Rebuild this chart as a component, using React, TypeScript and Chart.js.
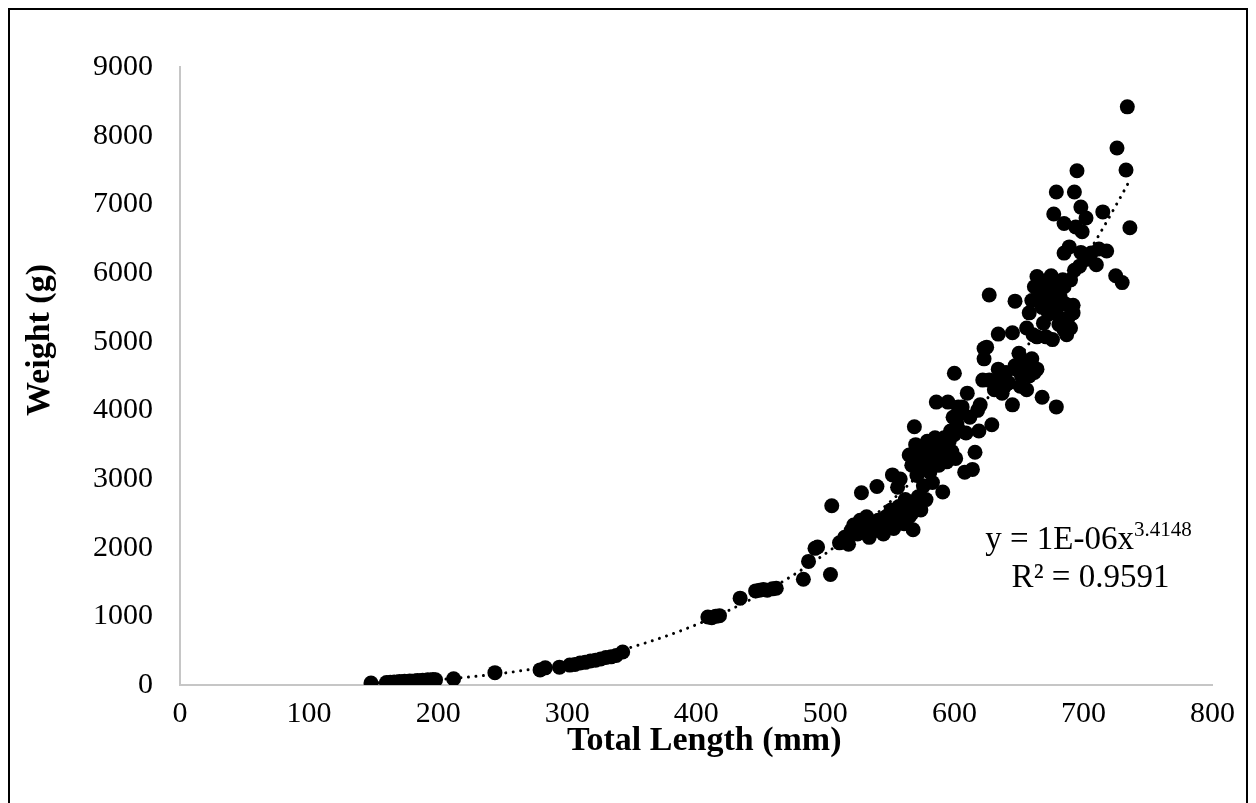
import React, { useEffect, useRef } from "react";
import { Chart, registerables } from "chart.js";

Chart.register(...registerables);

// Total length (mm) and weight (g) of each fish
const lengthMm = [
  148, 160, 163, 166, 168, 170, 172, 174, 176, 178, 180, 182, 184, 186, 188, 190, 192, 194, 196, 198,
  212, 244, 279, 283, 294, 302, 306, 310, 314, 318, 322, 326, 330, 334, 338, 343,
  409, 412, 415, 418, 434, 446, 449, 452, 455, 459, 462, 483, 487, 492, 494, 504, 505, 511,
  515, 518, 520, 522, 525, 527, 528, 530, 532, 534, 536, 538, 540, 541, 543, 545, 547, 549, 551, 552,
  553, 555, 556, 557, 558, 559, 561, 562, 563, 565, 567, 568, 570, 572, 574, 576, 578,
  565, 567, 569, 570, 571, 572, 574, 575, 576, 578, 579, 580, 581, 582, 583, 584, 585, 586, 587, 588,
  589, 590, 591, 592, 593, 594, 595, 596, 597, 598, 599, 600, 601, 602, 603,
  600, 604, 606, 608, 609, 610, 612, 614, 616, 618, 619, 620, 622, 623, 625, 627, 629, 631, 633, 634,
  635, 637, 639, 640, 642, 645, 645, 647, 648, 650, 651, 652, 654, 656, 657, 658, 660, 662, 664, 668,
  679, 634, 627, 647, 623,
  656, 658, 660, 661, 662, 664, 664, 666, 668, 669, 670, 671, 672, 673, 674, 675, 676, 676, 678, 679,
  680, 681, 682, 684, 685, 686, 688, 690, 692, 692, 687,
  734, 726, 733, 695, 679, 693, 698, 702, 677, 685, 694, 699, 715, 736, 689, 685, 698, 706, 718, 710,
  693, 725, 730, 675, 680, 685, 690, 697, 703, 712,
];

const weightG = [
  30, 35, 40, 45, 40, 50, 45, 55, 50, 60, 55, 60, 65, 60, 70, 65, 75, 70, 80, 75,
  90, 180, 220, 250, 260, 290, 300, 320, 330, 350, 360, 380, 400, 410, 430, 480,
  990, 980, 1000, 1010, 1265, 1370, 1380, 1390, 1380, 1400, 1410, 1540, 1800, 1990, 2010, 1610, 2610, 2070,
  2150, 2050, 2250, 2330, 2200, 2400, 2800, 2300, 2450, 2150, 2350, 2250, 2890, 2400, 2300, 2200, 2450, 2350, 2550, 3060,
  2280, 2480, 2880, 2600, 3000, 2400, 2350, 2700, 2550, 2450, 2500, 2260, 2600, 2740, 2550, 2900, 2700,
  3350, 3200, 3760, 3500, 3050, 3420, 3300, 3150, 3450, 3250, 3550, 3350, 3100, 3450, 2950, 3300, 3600, 4120, 3400, 3200,
  3500, 3350, 2810, 3600, 3450, 3250, 4120, 3550, 3700, 3400, 3900, 3650, 3300, 3800, 4050,
  4540, 3950, 4050, 3100, 3670, 4250, 3900, 3140, 3390, 4000, 3700, 4080, 4440, 4750, 4920, 4440, 3790, 4300, 4400, 4600,
  4500, 4250, 4350, 4550, 4400, 4080, 5130, 4650, 4600, 4830, 4350, 4500, 4650, 4300, 4700, 4500, 4750, 4550, 4600, 4190,
  4050, 5110, 5680, 5590, 4900,
  5200, 5420, 5600, 5100, 5800, 5950, 5070, 5650, 5500, 5270, 5700, 5070, 5850, 5400, 5600, 5750, 5900, 5030, 5500, 5420,
  5800, 5250, 5650, 5900, 5170, 5550, 5350, 5200, 5530, 5420, 5100,
  8420, 7820, 7500, 7490, 7180, 7180, 6960, 6800, 6860, 6720, 6670, 6600, 6890, 6660, 6380, 6290, 6300, 6290, 6320, 6120,
  6040, 5960, 5860, 5960, 5880, 5800, 5900, 6100, 6200, 6350,
];

const xTickMin = 0;
const xTickMax = 800;
const xTickStep = 100;
const yTickMin = 0;
const yTickMax = 9000;
const yTickStep = 1000;

const xTitle = "Total Length (mm)";
const yTitle = "Weight (g)";
const equationMain = "y = 1E-06x";
const equationExponent = "3.4148";
const rSquaredLabel = "R² = 0.9591";

const SERIF = '"Liberation Serif", "Times New Roman", "DejaVu Serif", serif';

// Least-squares power fit (ln y = ln a + b ln x), as a spreadsheet trendline does
function powerFit(xs: number[], ys: number[]) {
  const n = xs.length;
  let sx = 0, sy = 0, sxx = 0, sxy = 0;
  for (let i = 0; i < n; i++) {
    const lx = Math.log(xs[i]);
    const ly = Math.log(ys[i]);
    sx += lx; sy += ly; sxx += lx * lx; sxy += lx * ly;
  }
  const b = (n * sxy - sx * sy) / (n * sxx - sx * sx);
  const lnA = (sy - b * sx) / n;
  return { a: Math.exp(lnA), b };
}

function trendPoints(xs: number[], ys: number[]) {
  const { a, b } = powerFit(xs, ys);
  const lo = Math.min(...xs);
  const hi = Math.max(...xs);
  const steps = 150;
  const pts: { x: number; y: number }[] = [];
  for (let i = 0; i <= steps; i++) {
    const x = lo + ((hi - lo) * i) / steps;
    pts.push({ x, y: a * Math.pow(x, b) });
  }
  return pts;
}

const textPlugin = {
  id: "fishText",
  afterDraw(chart: any) {
    const { ctx, chartArea } = chart;
    const { left, right, top, bottom } = chartArea;
    ctx.save();
    ctx.fillStyle = "#000";

    // axis titles
    ctx.font = `bold 34px ${SERIF}`;
    ctx.textAlign = "center";
    ctx.textBaseline = "middle";
    ctx.fillText(xTitle, (left + right) / 2 + 8, bottom + 56);
    ctx.save();
    ctx.translate(left - 140, (top + bottom) / 2 - 36);
    ctx.rotate(-Math.PI / 2);
    ctx.fillText(yTitle, 0, 0);
    ctx.restore();

    // trendline equation
    const cx = right - 124;
    const y1 = bottom - 145;
    const y2 = bottom - 107;
    const mainFont = `33px ${SERIF}`;
    const supFont = `21px ${SERIF}`;
    ctx.font = mainFont;
    const wMain = ctx.measureText(equationMain).width;
    ctx.font = supFont;
    const wExp = ctx.measureText(equationExponent).width;
    const startX = cx - (wMain + wExp) / 2;
    ctx.textAlign = "left";
    ctx.font = mainFont;
    ctx.fillText(equationMain, startX, y1);
    ctx.font = supFont;
    ctx.fillText(equationExponent, startX + wMain, y1 - 10);
    ctx.font = mainFont;
    ctx.textAlign = "center";
    ctx.fillText(rSquaredLabel, cx + 2, y2);
    ctx.restore();
  },
};

export default function App() {
  const canvasRef = useRef<HTMLCanvasElement | null>(null);

  useEffect(() => {
    const canvas = canvasRef.current;
    if (!canvas) return;
    const points = lengthMm.map((x, i) => ({ x, y: weightG[i] }));
    const chart = new Chart(canvas, {
      type: "scatter",
      data: {
        datasets: [
          {
            type: "line",
            label: "Power trend",
            data: trendPoints(lengthMm, weightG),
            borderColor: "#000",
            borderWidth: 3,
            borderDash: [0.01, 7.5],
            borderCapStyle: "round",
            pointRadius: 0,
            fill: false,
            tension: 0,
            order: 0,
          } as any,
          {
            label: "Weight",
            data: points,
            backgroundColor: "#000",
            borderColor: "#000",
            borderWidth: 0,
            pointRadius: 7.5,
            pointHoverRadius: 7.5,
            order: 1,
          },
        ],
      },
      options: {
        responsive: false,
        animation: false,
        events: [],
        layout: { padding: { top: 57, right: 33, left: 0, bottom: 0 } },
        plugins: {
          legend: { display: false },
          tooltip: { enabled: false },
          title: { display: false },
        },
        scales: {
          x: {
            type: "linear",
            min: xTickMin,
            max: xTickMax,
            afterFit: (scale: any) => {
              scale.height = 125;
            },
            grid: { display: false, drawTicks: false },
            border: { display: true, color: "#c6c6c6", width: 2 },
            ticks: {
              stepSize: xTickStep,
              padding: 11,
              color: "#000",
              font: { family: SERIF, size: 30 },
              maxRotation: 0,
              callback: (v: any) => String(v),
            },
          },
          y: {
            type: "linear",
            min: yTickMin,
            max: yTickMax,
            afterFit: (scale: any) => {
              scale.width = 170;
            },
            grid: { display: false, drawTicks: false },
            border: { display: true, color: "#c6c6c6", width: 2 },
            ticks: {
              stepSize: yTickStep,
              padding: 27,
              color: "#000",
              font: { family: SERIF, size: 30 },
              callback: (v: any) => String(v),
            },
          },
        },
      },
      plugins: [textPlugin],
    });
    return () => chart.destroy();
  }, []);

  return (
    <div
      style={{
        border: "2px solid #000",
        borderBottom: "none",
        width: 1236,
        height: 800,
        overflow: "hidden",
        background: "#fff",
      }}
    >
      <canvas ref={canvasRef} width={1236} height={800} style={{ display: "block" }} />
    </div>
  );
}
